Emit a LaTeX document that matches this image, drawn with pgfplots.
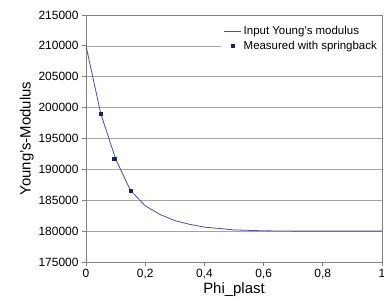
\documentclass[border=0pt]{standalone}
\usepackage{pgfplots}
\pgfplotsset{compat=1.18}
\usepackage{fontspec}
\setmainfont{Liberation Sans}
\definecolor{curve}{RGB}{75,75,170}
\definecolor{mark}{RGB}{30,30,110}
\definecolor{gridc}{RGB}{165,165,165}
\definecolor{axisc}{RGB}{130,130,130}
\begin{document}
\begin{tikzpicture}
\begin{axis}[
  at={(0,0)}, anchor=south west,
  scale only axis, width=296bp, height=247bp,
  xmin=0, xmax=1, ymin=175000, ymax=215000,
  xtick={0,0.2,0.4,0.6,0.8,1},
  ytick={175000,180000,185000,190000,195000,200000,205000,210000,215000},
  /pgf/number format/assume math mode=true,
  /pgf/number format/fixed,
  /pgf/number format/use comma,
  /pgf/number format/1000 sep={},
  scaled y ticks=false, scaled x ticks=false,
  ymajorgrids, grid style={gridc, line width=0.6pt},
  axis line style={axisc, line width=0.8pt},
  tick style={axisc, line width=0.8pt},
  tick align=outside, major tick length=4bp,
  xtick pos=bottom, ytick pos=left,
  tick label style={font=\fontsize{12}{14}\selectfont},
  xlabel={Phi\_plast}, ylabel={Young's-Modulus},
  label style={font=\fontsize{15}{17}\selectfont},
  xlabel style={yshift=4bp},
  ylabel style={yshift=-2bp},
  legend style={at={(1,0.975)}, anchor=north east, draw=none, fill=white,
    font=\fontsize{11.5}{13}\selectfont, row sep=1bp, inner sep=3bp},
  legend cell align=left,
]
\addplot[curve, line width=0.8pt] coordinates {
 (0,210000) (0.05,199000) (0.1,191700) (0.15,186600) (0.2,184100)
 (0.25,182700) (0.3,181700) (0.35,181100) (0.4,180650) (0.5,180200)
 (0.6,180050) (0.7,180000) (0.8,180000) (0.9,180000) (1,180000)};
\addlegendentry{Input Young's modulus}
\addplot[only marks, mark=square*, mark size=1.6bp, mark options={fill=mark, draw=mark}] coordinates {
 (0.05,199000) (0.095,191700) (0.15,186600)};
\addlegendentry{Measured with springback}
\end{axis}
\pgfresetboundingbox
\path[use as bounding box] (-86bp,-45bp) rectangle (298bp,262bp);
\end{tikzpicture}
\end{document}
